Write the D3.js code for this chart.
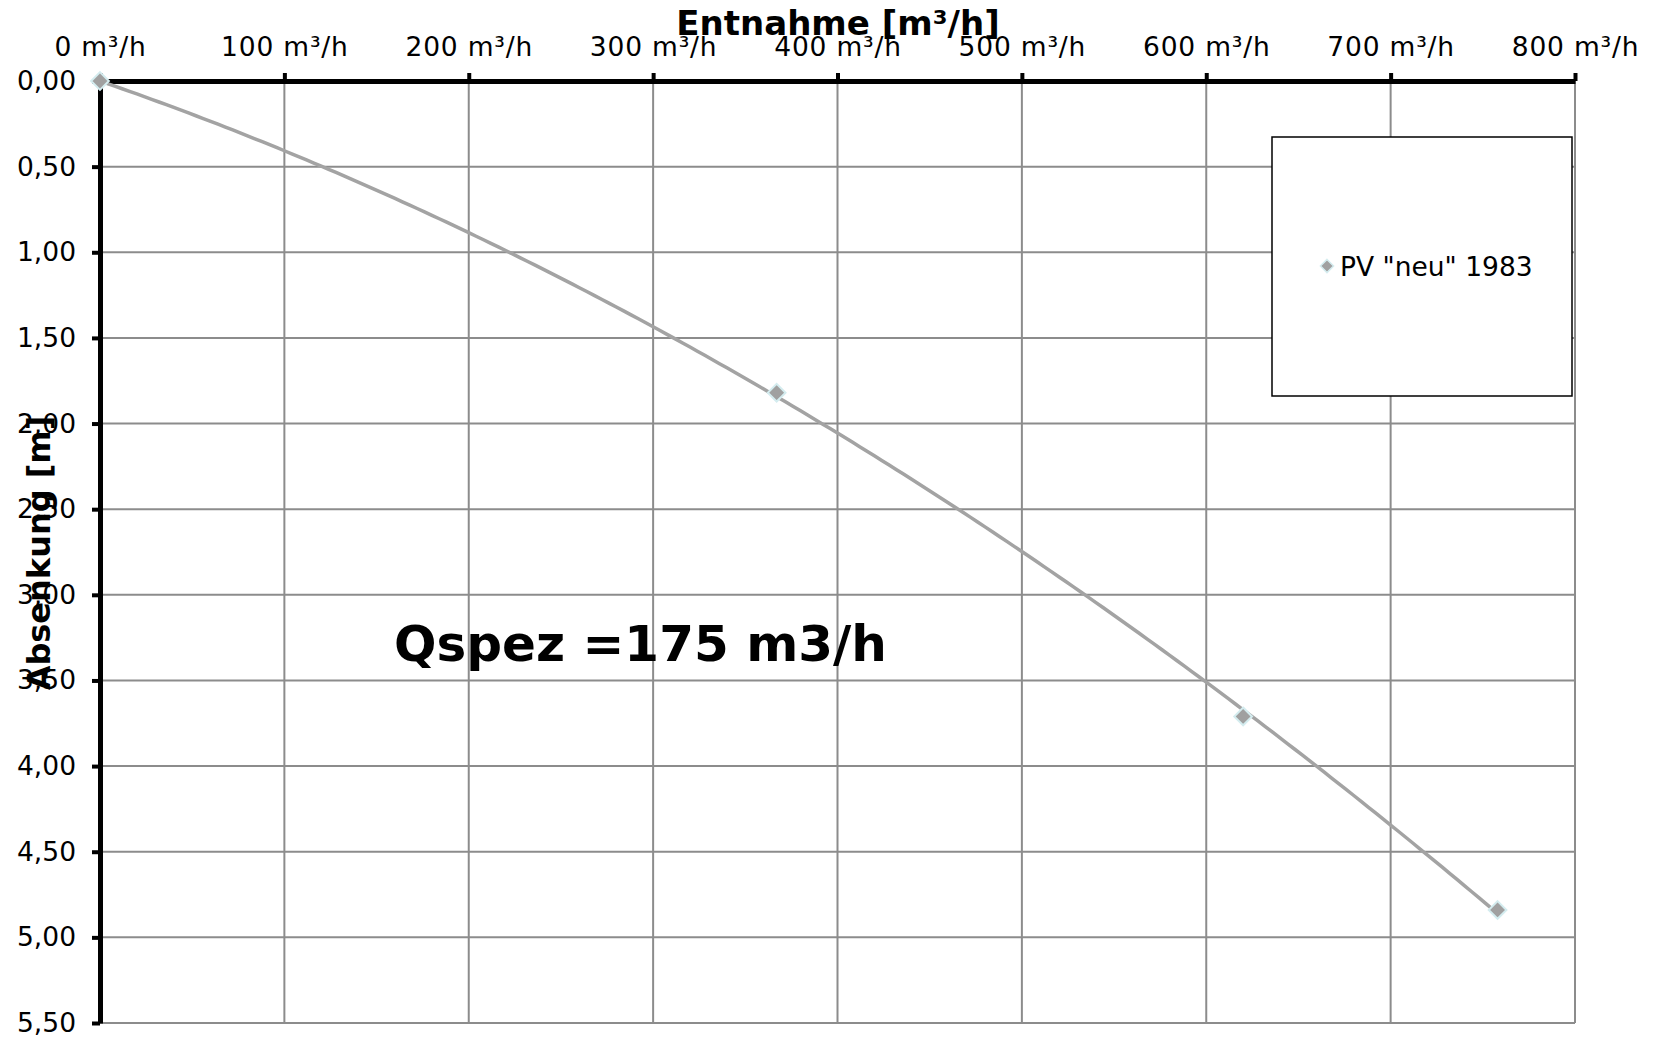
<!DOCTYPE html>
<html>
<head>
<meta charset="utf-8">
<script src="https://cdn.jsdelivr.net/npm/d3@7"></script>
<style>
  body { margin: 0; background: #fff; }
  svg { display: block; font-family: "DejaVu Sans", Verdana, sans-serif; }
</style>
</head>
<body>
<svg width="1653" height="1039"></svg>
<script>
// data
var entnahme = [0, 367, 620, 758];        // m³/h
var absenkung = [0, 1.82, 3.71, 4.84];    // m
var xTicks = [0, 100, 200, 300, 400, 500, 600, 700, 800];
var yTicks = [0, 0.5, 1, 1.5, 2, 2.5, 3, 3.5, 4, 4.5, 5, 5.5];
var seriesName = 'PV "neu" 1983';
var note = "Qspez =175 m3/h";

var svg = d3.select("svg");

var margin = {left: 100, top: 81, right: 1575, bottom: 1023};

var x = d3.scaleLinear().domain([0, 800]).range([margin.left, margin.right]);
var y = d3.scaleLinear().domain([0, 5.5]).range([margin.top, margin.bottom]);

var fmtY = function(d) { return d3.format(".2f")(d).replace(".", ","); };
var fmtX = function(d) { return d + " m³/h"; };

// grid
var grid = svg.append("g").attr("stroke", "#8c8c8c").attr("stroke-width", 2);
grid.selectAll(".v").data(xTicks.slice(1)).enter().append("line")
    .attr("x1", function(d) { return x(d); }).attr("x2", function(d) { return x(d); })
    .attr("y1", y(0)).attr("y2", y(5.5));
grid.selectAll(".h").data(yTicks.slice(1)).enter().append("line")
    .attr("x1", x(0)).attr("x2", x(800))
    .attr("y1", function(d) { return y(d); }).attr("y2", function(d) { return y(d); });

// axes
var xAxis = svg.append("g")
    .attr("transform", "translate(0," + y(0) + ")")
    .call(d3.axisTop(x).tickValues(xTicks).tickFormat(fmtX).tickSizeInner(8).tickSizeOuter(0).tickPadding(17));
var yAxis = svg.append("g")
    .attr("transform", "translate(" + x(0) + ",0)")
    .call(d3.axisLeft(y).tickValues(yTicks).tickFormat(fmtY).tickSizeInner(8).tickSizeOuter(0).tickPadding(16));

[xAxis, yAxis].forEach(function(ax) {
  ax.select(".domain").attr("stroke", "#000").attr("stroke-width", 5);
  ax.selectAll(".tick line").attr("stroke", "#000").attr("stroke-width", 4);
  ax.selectAll(".tick text").attr("fill", "#000")
    .attr("font-family", "DejaVu Sans, Verdana, sans-serif");
});
xAxis.selectAll(".tick text").attr("font-size", 26.5).attr("letter-spacing", 0.8);
yAxis.selectAll(".tick text").attr("font-size", 26.5);

// trendline: least squares y = a*x + b*x^2 through origin
var s2 = 0, s3 = 0, s4 = 0, sxy = 0, sx2y = 0;
entnahme.forEach(function(xv, i) {
  var yv = absenkung[i];
  s2 += xv * xv; s3 += xv * xv * xv; s4 += xv * xv * xv * xv;
  sxy += xv * yv; sx2y += xv * xv * yv;
});
var det = s2 * s4 - s3 * s3;
var a = (sxy * s4 - s3 * sx2y) / det;
var b = (s2 * sx2y - s3 * sxy) / det;
var xs = d3.range(0, d3.max(entnahme) + 1, 4);
var line = d3.line()
    .x(function(d) { return x(d); })
    .y(function(d) { return y(a * d + b * d * d); });
svg.append("path")
    .datum(xs)
    .attr("d", line)
    .attr("fill", "none")
    .attr("stroke", "#a3a3a3")
    .attr("stroke-width", 3.5);

// markers
var diamond = d3.symbol().type(d3.symbolDiamond2).size(200);
svg.selectAll(".pt").data(entnahme).enter().append("path")
    .attr("transform", function(d, i) { return "translate(" + x(d) + "," + y(absenkung[i]) + ")"; })
    .attr("d", diamond)
    .attr("fill", "#a0a0a0")
    .attr("stroke", "#d4ecef")
    .attr("stroke-width", 2);

// legend
svg.append("rect")
    .attr("x", 1272).attr("y", 137).attr("width", 300).attr("height", 259)
    .attr("fill", "#fff").attr("stroke", "#000").attr("stroke-width", 1.5);
svg.append("path")
    .attr("transform", "translate(1327,266)")
    .attr("d", d3.symbol().type(d3.symbolDiamond2).size(110))
    .attr("fill", "#a0a0a0").attr("stroke", "#d4ecef").attr("stroke-width", 1.5);
svg.append("text")
    .attr("x", 1340).attr("y", 276)
    .attr("font-size", 26.5)
    .text(seriesName);

// axis titles
svg.append("text")
    .attr("x", 838).attr("y", 35)
    .attr("text-anchor", "middle")
    .attr("font-weight", "bold")
    .attr("font-size", 34)
    .text("Entnahme [m³/h]");
svg.append("text")
    .attr("transform", "translate(50,553) rotate(-90)")
    .attr("text-anchor", "middle")
    .attr("font-weight", "bold")
    .attr("font-size", 32)
    .text("Absenkung [m]");

// annotation
svg.append("text")
    .attr("x", 394).attr("y", 661)
    .attr("font-weight", "bold")
    .attr("font-size", 50)
    .text(note);
</script>
</body>
</html>
